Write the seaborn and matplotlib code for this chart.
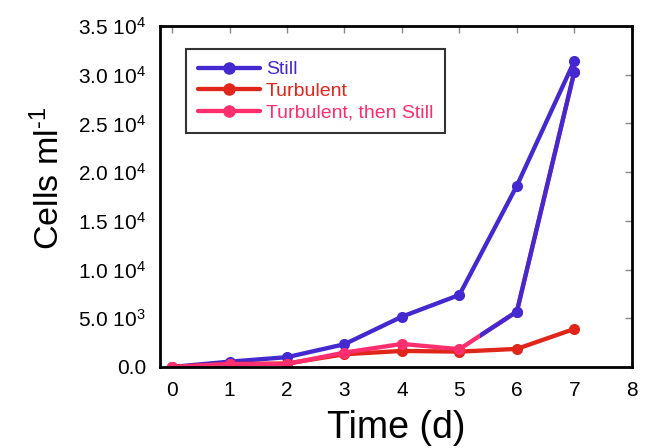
import matplotlib
matplotlib.use('Agg')
import matplotlib.pyplot as plt
from matplotlib.patches import Rectangle
from matplotlib.lines import Line2D
import pandas as pd
import seaborn as sns

# Data
days = [0, 1, 2, 3, 4, 5, 6, 7]
still = [0, 540, 1000, 2330, 5160, 7390, 18600, 31400]
turbulent = [0, 300, 350, 1300, 1640, 1570, 1850, 3900]
turb_then_still = [0, 280, 300, 1470, 2360, 1820, 5680, 30300]

series_names = ['Still', 'Turbulent', 'Turbulent, then Still']
colors = ['#4428d0', '#e0261a', '#ff2e6e']
switch_day = 5.35  # after this the "then Still" curve is drawn in the Still colour

y_ticks = [0, 5000, 10000, 15000, 20000, 25000, 30000, 35000]
y_tick_labels = ['0.0', r'5.0 10$^3$', r'1.0 10$^4$', r'1.5 10$^4$', r'2.0 10$^4$',
                 r'2.5 10$^4$', r'3.0 10$^4$', r'3.5 10$^4$']
x_ticks = [0, 1, 2, 3, 4, 5, 6, 7, 8]

sns.set_style('white')
plt.rcParams['font.family'] = ['Liberation Sans', 'DejaVu Sans']
plt.rcParams['mathtext.fontset'] = 'custom'
plt.rcParams['mathtext.rm'] = 'Liberation Sans'
plt.rcParams['mathtext.it'] = 'Liberation Sans'
plt.rcParams['text.color'] = 'black'
plt.rcParams['axes.labelcolor'] = 'black'

df = pd.DataFrame({'day': days, 'Still': still, 'Turbulent': turbulent,
                   'Turbulent, then Still': turb_then_still})

fig = plt.figure(figsize=(6.49, 4.48), dpi=100)
ax = fig.add_axes([0.2465, 0.181, 0.727, 0.761])

line_kw = dict(marker='o', markersize=8, linewidth=3.1, markeredgewidth=0)
for name, c in zip(series_names, colors):
    sns.lineplot(data=df, x='day', y=name, color=c, ax=ax, **line_kw)

# blue overlay on the last curve from the switch onwards
late = df[df['day'] >= 5]
sns.lineplot(data=late, x='day', y='Turbulent, then Still', color=colors[0], ax=ax, **line_kw)
clip = Rectangle((switch_day, -5000), 10, 60000, transform=ax.transData)
ax.lines[-1].set_clip_path(clip)

ax.set_xlim(-0.21, 8)
ax.set_ylim(0, 35000)
ax.set_xticks(x_ticks)
ax.set_yticks(y_ticks)
ax.set_yticklabels(y_tick_labels)
ax.tick_params(direction='in', length=5, width=1, color='#888888', labelcolor='black',
               labelsize=15, top=True, right=True)
ax.tick_params(axis='x', pad=10)
ax.tick_params(axis='y', pad=10)
for s in ax.spines.values():
    s.set_visible(True)
    s.set_color('black')
    s.set_linewidth(2)

ax.set_xlabel('Time (d)', fontsize=27, labelpad=7)
ax.set_ylabel(r'Cells ml$^{\text{-1}}$', fontsize=24.5)
ax.yaxis.set_label_coords(-0.2, 0.554)

handles = [Line2D([], [], color=c, marker='o', markersize=8, linewidth=3.1) for c in colors]
leg = ax.legend(handles, series_names, loc='upper left', bbox_to_anchor=(0.055, 0.932),
                borderaxespad=0, fontsize=14, handlelength=3.2, handletextpad=0.3,
                labelspacing=0.2, fancybox=False, frameon=True, borderpad=0.6)
leg.get_frame().set_edgecolor('black')
leg.get_frame().set_linewidth(1.5)
for t, c in zip(leg.get_texts(), colors):
    t.set_color(c)

fig.savefig('out.png', dpi=100)
